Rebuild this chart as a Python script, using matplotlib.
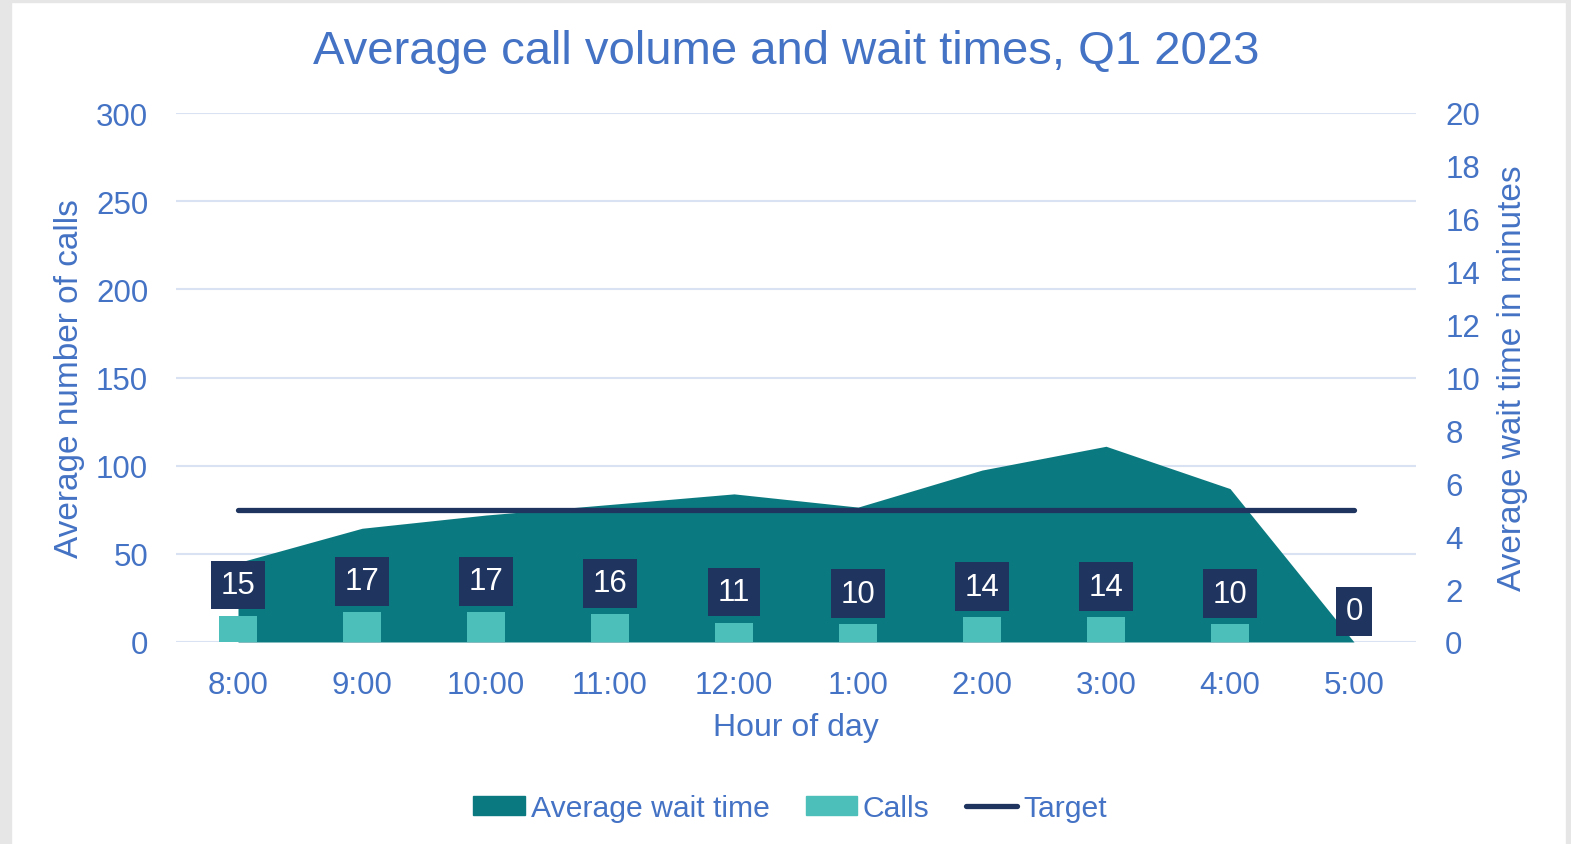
import matplotlib
matplotlib.use("Agg")
import matplotlib.pyplot as plt
from matplotlib.patches import Rectangle, Patch
from matplotlib.lines import Line2D

hours = ["8:00", "9:00", "10:00", "11:00", "12:00", "1:00", "2:00", "3:00", "4:00", "5:00"]
calls = [15, 17, 17, 16, 11, 10, 14, 14, 10, 0]
wait_time = [3.0, 4.3, 4.8, 5.2, 5.6, 5.1, 6.5, 7.4, 5.8, 0.0]
target = [5] * len(hours)

BLUE = "#4472C4"
TEAL = "#0B7A80"
LIGHT = "#4DBFBA"
NAVY = "#1F3560"
GRID = "#D9E2F3"

plt.rcParams['font.family'] = ['Liberation Sans', 'DejaVu Sans']

fig = plt.figure(figsize=(15.71, 8.45), dpi=100)
# light grey frame edges
fig.patches.append(Rectangle((0, 0), 11/1571, 1, transform=fig.transFigure, color="#E6E6E6", zorder=0))
fig.patches.append(Rectangle((0, 1 - 3/845), 1, 3/845, transform=fig.transFigure, color="#E6E6E6", zorder=0))
fig.patches.append(Rectangle((1 - 5/1571, 0), 5/1571, 1, transform=fig.transFigure, color="#E6E6E6", zorder=0))

ax = fig.add_axes([176/1571, 1 - 643/845, 1240/1571, 529/845])
x = list(range(len(hours)))

ax.set_xlim(-0.5, len(hours) - 0.5)
ax.set_ylim(0, 300)
ax.set_yticks(range(0, 301, 50))
ax.grid(axis="y", color=GRID, linewidth=1.5)
ax.set_axisbelow(True)
for s in ax.spines.values():
    s.set_visible(False)
ax.tick_params(axis="both", length=0, colors=BLUE, labelsize=22.5)
ax.tick_params(axis="y", pad=20)
ax.tick_params(axis="x", pad=20)
ax.set_xticks(x)
ax.set_xticklabels(hours)
ax.set_ylabel("Average number of calls", color=BLUE, fontsize=24, labelpad=8)
ax.set_xlabel("Hour of day", color=BLUE, fontsize=23, labelpad=9)

# secondary axis: wait time area + target
ax2 = ax.twinx()
ax2.set_ylim(0, 20)
ax2.set_yticks(range(0, 21, 2))
for s in ax2.spines.values():
    s.set_visible(False)
ax2.tick_params(axis="y", length=0, colors=BLUE, labelsize=22.5, pad=21)
ax2.fill_between(x, wait_time, 0, color=TEAL, linewidth=0, zorder=2)
ax2.plot(x, target, color=NAVY, linewidth=3.8, solid_capstyle="round", zorder=3)
ax2.set_ylabel("Average wait time in minutes", color=BLUE, fontsize=24, labelpad=12)

# third layer for bars and labels on the calls scale
ax3 = ax.twinx()
ax3.set_ylim(0, 300)
ax3.set_yticks([])
for s in ax3.spines.values():
    s.set_visible(False)
ax3.bar(x, calls, width=0.31, color=LIGHT, zorder=3)
for xi, c in zip(x, calls):
    ax3.annotate(str(c), (xi, c), xytext=(0, 22), textcoords="offset points",
                 ha="center", va="center", color="white", fontsize=22.5,
                 bbox=dict(boxstyle="square,pad=0.3", fc=NAVY, ec="none"))

fig.text(786/1571, 1 - 52/845, "Average call volume and wait times, Q1 2023", color=BLUE,
         fontsize=34, ha="center", va="center")

handles = [Patch(color=TEAL), Patch(color=LIGHT), Line2D([0], [0], color=NAVY, linewidth=3.8, solid_capstyle="round")]
labels = ["Average wait time", "Calls", "Target"]
leg = fig.legend(handles, labels, loc="center", bbox_to_anchor=(790/1571, 1 - 809/845), ncol=3,
                 frameon=False, fontsize=21.7, handlelength=1.7, handleheight=0.6, handletextpad=0.2,
                 columnspacing=1.2, labelcolor=BLUE)

fig.savefig("out.png", dpi=100)
